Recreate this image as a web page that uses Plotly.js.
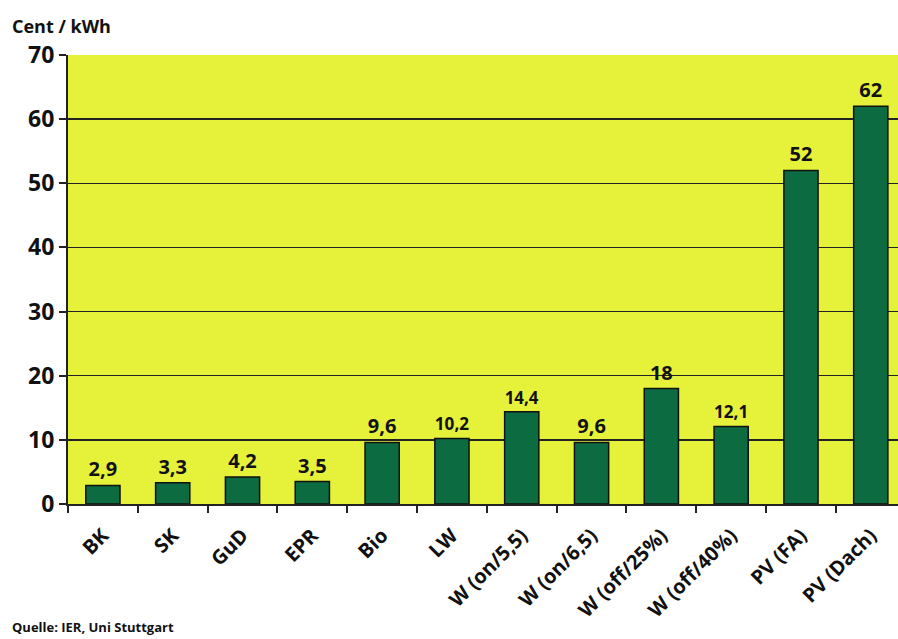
<!DOCTYPE html>
<html>
<head>
<meta charset="utf-8">
<script src="https://cdn.plot.ly/plotly-3.0.1.min.js"></script>
<style>html,body{margin:0;padding:0;background:#fff;}#chart{width:898px;height:639px;}</style>
</head>
<body>
<div id="chart"></div>
<script>
const categories = ["BK","SK","GuD","EPR","Bio","LW","W (on/5,5)","W (on/6,5)","W (off/25%)","W (off/40%)","PV (FA)","PV (Dach)"];
const values = [2.9, 3.3, 4.2, 3.5, 9.6, 10.2, 14.4, 9.6, 18, 12.1, 52, 62];
const yTicks = [0, 10, 20, 30, 40, 50, 60, 70];

const labels = values.map(v => String(v).replace('.', ','));
const fontFam = '"Open Sans", "Noto Sans", sans-serif';

const trace = {
  type: 'bar',
  x: categories,
  y: values,
  text: labels,
  textposition: 'outside',
  cliponaxis: false,
  textfont: {family: fontFam, size: 20, color: '#111', weight: 700},
  marker: {color: '#0d6b42', line: {color: '#111', width: 1.5}},
  width: 0.49,
  hoverinfo: 'none'
};

const layout = {
  width: 898, height: 639,
  margin: {l: 68, r: 0, t: 55, b: 135},
  paper_bgcolor: '#ffffff',
  plot_bgcolor: '#e6f23a',
  showlegend: false,
  bargap: 0.51,
  xaxis: {
    type: 'category',
    range: [-0.5, 11.39],
    tickangle: -45,
    ticks: 'outside', tickson: 'boundaries', ticklen: 7, tickwidth: 2, tickcolor: '#222',
    ticklabelstandoff: 10,
    showline: true, linecolor: '#222', linewidth: 2,
    showgrid: false,
    tickfont: {family: fontFam, size: 20, color: '#111', weight: 700},
    fixedrange: true
  },
  yaxis: {
    range: [0, 70],
    tickvals: yTicks,
    ticktext: yTicks.map(String),
    ticks: 'outside', ticklen: 7, tickwidth: 2, tickcolor: '#222',
    showline: true, linecolor: '#222', linewidth: 2,
    showgrid: true, gridcolor: '#222', gridwidth: 1.5,
    zeroline: false,
    tickfont: {family: fontFam, size: 23, color: '#111', weight: 700},
    fixedrange: true
  },
  annotations: [
    {text: 'Cent / kWh', xref: 'paper', yref: 'paper', x: -0.07, y: 1.0, xanchor: 'left', yanchor: 'bottom', yshift: 15,
     showarrow: false, font: {family: fontFam, size: 18, color: '#111', weight: 700}},
    {text: 'Quelle: IER, Uni Stuttgart', xref: 'paper', yref: 'paper', x: -0.07, y: 0, xanchor: 'left', yanchor: 'top', yshift: -112,
     showarrow: false, font: {family: fontFam, size: 13, color: '#111', weight: 700}}
  ]
};

Plotly.newPlot('chart', [trace], layout, {staticPlot: true, displayModeBar: false});
</script>
</body>
</html>
